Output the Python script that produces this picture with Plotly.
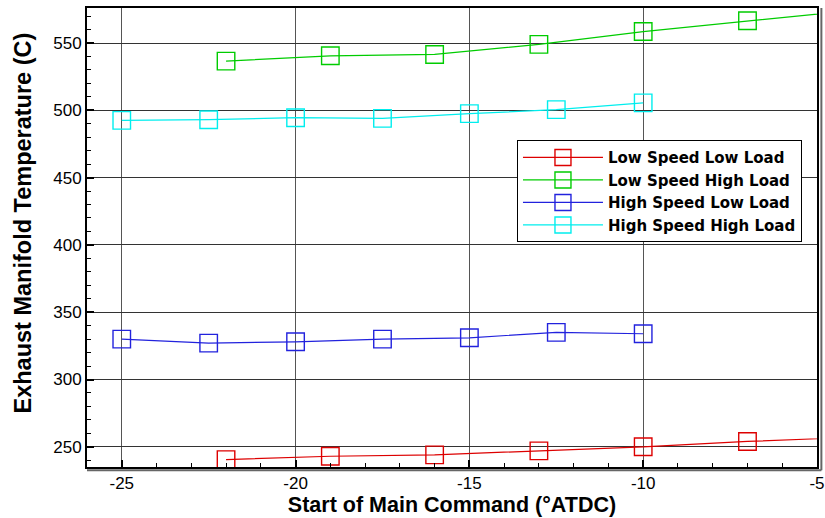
import plotly.graph_objects as go

names = ["Low Speed Low Load", "Low Speed High Load", "High Speed Low Load", "High Speed High Load"]
colors = ["#dd0000", "#00cc00", "#2222dd", "#00eeee"]

x_low = [-22, -19, -16, -13, -10, -7, -4]
y_lsll = [240.5, 243, 244, 247, 250, 254, 257]
y_lshl = [536.5, 540.5, 541.5, 549, 558.5, 566.5, 574]

x_high = [-25, -22.5, -20, -17.5, -15, -12.5, -10]
y_hsll = [330, 327, 328, 330, 331, 335, 334]
y_hshl = [492.5, 493, 494.5, 494, 497.5, 500.5, 505.5]

series = [(x_low, y_lsll), (x_low, y_lshl), (x_high, y_hsll), (x_high, y_hshl)]

fig = go.Figure()
for (xs, ys), n, c in zip(series, names, colors):
    fig.add_trace(go.Scatter(
        x=xs, y=ys, name=n, mode="lines+markers",
        line=dict(color=c, width=1.2),
        marker=dict(symbol="square-open", size=17.5, color=c, line=dict(width=1.4, color=c)),
        cliponaxis=True,
    ))

font_main = "Liberation Sans, Arial, sans-serif"
fig.update_layout(
    width=825, height=518,
    margin=dict(l=87, r=8, t=8, b=51),
    paper_bgcolor="white", plot_bgcolor="white",
    font=dict(family=font_main, color="black"),
    showlegend=True,
    legend=dict(
        x=0.589, y=0.712, xanchor="left", yanchor="top",
        bgcolor="white", bordercolor="black", borderwidth=1,
        font=dict(size=15, family="DejaVu Sans, sans-serif", weight="bold"),
        itemwidth=80, tracegroupgap=0,
    ),
    xaxis=dict(
        range=[-26, -5], tickvals=[-25, -20, -15, -10, -5],
        ticktext=["-25", "-20", "-15", "-10", "-5"],
        automargin=False,
        showgrid=True, gridcolor="#555", gridwidth=1,
        zeroline=False,
        showline=True, linecolor="black", linewidth=2, mirror=True,
        ticks="inside", ticklen=7, tickwidth=2, tickcolor="black",
        minor=dict(dtick=1, ticks="inside", ticklen=4, tickwidth=1, tickcolor="black", showgrid=False),
        tickfont=dict(size=17),
        title=dict(text="Start of Main Command (°ATDC)", font=dict(size=21.5, weight="bold"), standoff=2),
    ),
    yaxis=dict(
        range=[235, 576], tickvals=[250, 300, 350, 400, 450, 500, 550],
        automargin=False,
        showgrid=True, gridcolor="#333", gridwidth=1,
        zeroline=False,
        showline=True, linecolor="black", linewidth=2, mirror=True,
        ticks="inside", ticklen=7, tickwidth=2, tickcolor="black",
        minor=dict(dtick=10, ticks="inside", ticklen=4, tickwidth=1, tickcolor="black", showgrid=False),
        tickfont=dict(size=17),
    ),
)

fig.add_annotation(
    text="Exhaust Manifold Temperature (C)", textangle=-90,
    xref="paper", yref="paper", x=0, y=0.5305, xanchor="center", yanchor="middle",
    xshift=-64, showarrow=False, font=dict(size=23.5, weight="bold", family=font_main),
)

# shadow lines (double frame on bottom and right)
fig.add_shape(type="line", xref="paper", yref="paper", x0=0, x1=1.006, y0=-0.007, y1=-0.007,
              line=dict(color="#666", width=2))
fig.add_shape(type="line", xref="paper", yref="paper", x0=1.006, x1=1.006, y0=-0.007, y1=1.0,
              line=dict(color="#666", width=2))

fig.write_html("out.html")
